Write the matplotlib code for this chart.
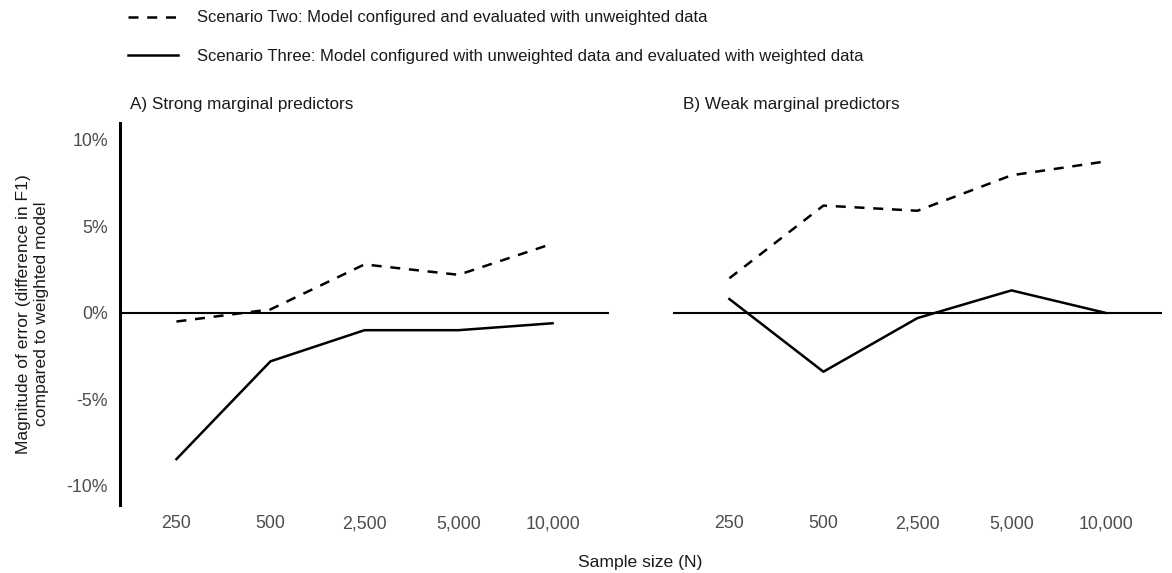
import matplotlib
matplotlib.use("Agg")
import matplotlib.pyplot as plt
from matplotlib.lines import Line2D
from matplotlib.ticker import FuncFormatter

plt.rcParams['font.family'] = ['Liberation Sans', 'DejaVu Sans']

# sample sizes on the x axis (categorical)
sample_sizes = ["250", "500", "2,500", "5,000", "10,000"]

# A) strong marginal predictors, error in percent
strong_scenario_two = [-0.5, 0.2, 2.8, 2.2, 4.0]
strong_scenario_three = [-8.45, -2.8, -1.0, -1.0, -0.6]

# B) weak marginal predictors
weak_scenario_two = [2.0, 6.2, 5.9, 7.95, 8.75]
weak_scenario_three = [0.8, -3.4, -0.3, 1.3, 0.0]

legend_labels = [
    "Scenario Two: Model configured and evaluated with unweighted data",
    "Scenario Three: Model configured with unweighted data and evaluated with weighted data",
]
panel_titles = ["A) Strong marginal predictors", "B) Weak marginal predictors"]

fig = plt.figure(figsize=(11.72, 5.73), dpi=100)
ax1 = fig.add_axes([0.1024, 0.1187, 0.4172, 0.6675])
ax2 = fig.add_axes([0.5742, 0.1187, 0.4172, 0.6675])

tick_col = "#4d4d4d"
txt_col = "#1a1a1a"
dash = (4, 3.5)
xs = list(range(1, len(sample_sizes) + 1))

for ax, two, three, title in [(ax1, strong_scenario_two, strong_scenario_three, panel_titles[0]),
                              (ax2, weak_scenario_two, weak_scenario_three, panel_titles[1])]:
    ax.axhline(0, color="black", lw=1.5, zorder=1)
    ax.plot(xs, two, color="black", lw=1.8, dashes=dash)
    ax.plot(xs, three, color="black", lw=1.8)
    ax.set_xlim(0.4, 5.6)
    ax.set_ylim(-11.1, 11.0)
    ax.set_xticks(xs)
    ax.set_xticklabels(sample_sizes)
    ax.set_yticks([-10, -5, 0, 5, 10])
    ax.yaxis.set_major_formatter(FuncFormatter(lambda v, p: f"{v:.0f}%"))
    ax.tick_params(axis="x", length=0, labelsize=12.8, colors=tick_col, pad=7.5)
    ax.tick_params(axis="y", length=0, labelsize=12.8, colors=tick_col, pad=8.6)
    for s in ["top", "right", "bottom"]:
        ax.spines[s].set_visible(False)
    ax.set_title(title, loc="left", fontsize=12.3, color=txt_col, pad=10, x=0.02)

ax1.spines["left"].set_linewidth(2.2)
ax2.spines["left"].set_visible(False)
ax2.set_yticklabels([])

ax1.set_ylabel("Magnitude of error (difference in F1)\ncompared to weighted model",
               fontsize=12.6, color=txt_col, labelpad=13)
fig.text(0.546, 1 - 562 / 573, "Sample size (N)", ha="center", va="center",
         fontsize=12.6, color=txt_col)

handles = [Line2D([], [], color="black", lw=1.8, dashes=dash),
           Line2D([], [], color="black", lw=1.8)]
fig.legend(handles, legend_labels, loc="center left", bbox_to_anchor=(0.1092, 1 - 37 / 573),
           frameon=False, fontsize=12, handlelength=3.0, labelspacing=1.4,
           handletextpad=1.14, borderpad=0, borderaxespad=0, labelcolor=txt_col)

fig.savefig("out.png", dpi=100, facecolor="white")
